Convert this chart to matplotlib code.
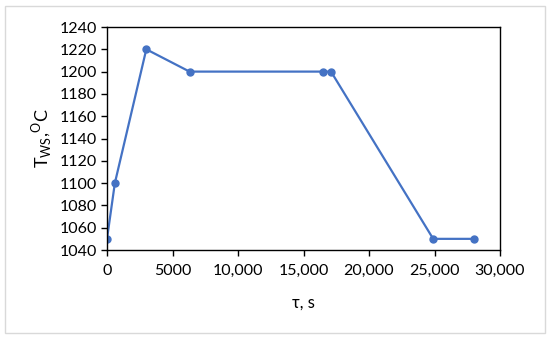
import numpy as np
import matplotlib.pyplot as plt
from matplotlib.ticker import FuncFormatter
from matplotlib.patches import Rectangle

# data
tau_s = [0, 600, 3000, 6300, 16500, 17100, 24900, 28000]
t_ws = [1050, 1100, 1220, 1200, 1200, 1200, 1050, 1050]

x_ticks = [0, 5000, 10000, 15000, 20000, 25000, 30000]
y_ticks = np.arange(1040, 1241, 20)

plt.rcParams['font.family'] = ['Lato', 'DejaVu Sans']

fig = plt.figure(figsize=(5.5, 3.39), dpi=100)
ax = fig.add_axes([107/550, 1 - 250/339, (500-107)/550, (250-27)/339])

# light grey border round the whole figure
fig.patches.append(Rectangle((5/550, 6/339), 540/550, 327/339, transform=fig.transFigure,
                             fill=False, edgecolor='#d9d9d9', linewidth=1))

ax.plot(tau_s, t_ws, color='#4472C4', linewidth=1.6, marker='o', markersize=5)

ax.set_xlim(0, 30000)
ax.set_ylim(1040, 1240)
ax.set_xticks(x_ticks)
ax.set_yticks(y_ticks)

def fmt(v, pos):
    if v < 10000:
        return '%d' % v
    return '{:,}'.format(int(v))

ax.xaxis.set_major_formatter(FuncFormatter(fmt))
ax.tick_params(direction='out', length=4, width=1, labelsize=11.5, colors='black')
ax.tick_params(axis='x', pad=6)
for s in ax.spines.values():
    s.set_linewidth(1)
    s.set_color('black')

ax.set_xlabel('τ, s', fontsize=12, labelpad=12)
ax.set_ylabel(r'T$_{\mathregular{WS}}$,$^{\mathregular{O}}$C', fontsize=13, labelpad=4)

fig.savefig('out.png', dpi=100)
